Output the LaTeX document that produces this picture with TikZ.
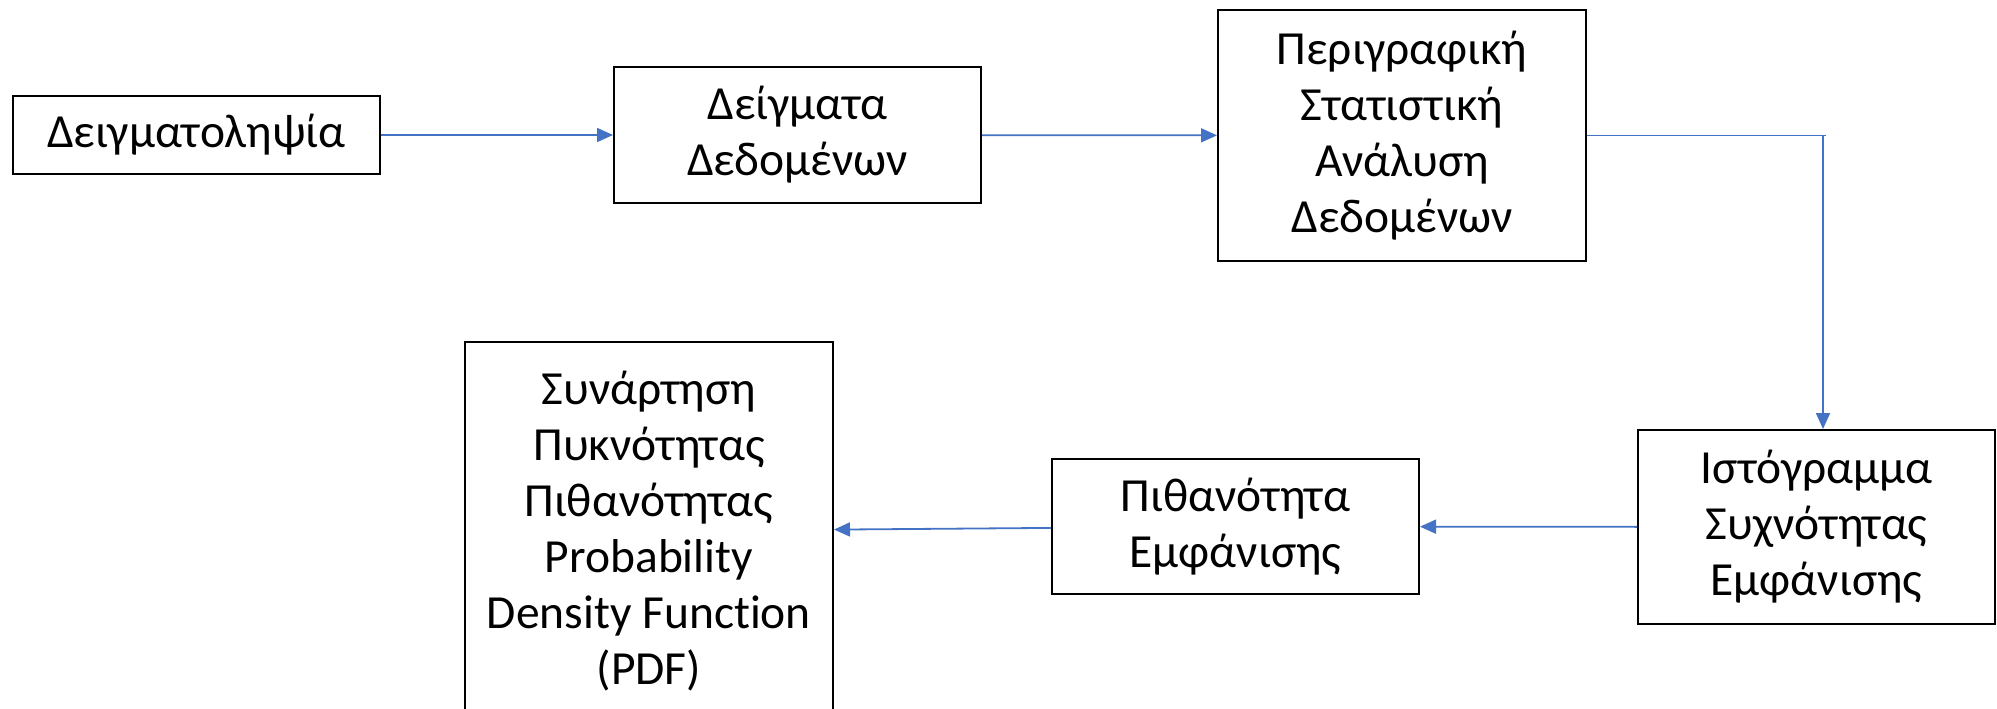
\documentclass[tikz,border=0pt]{standalone}
\usepackage{fontspec}
\setmainfont{Carlito}[Ligatures=NoCommon]
\usetikzlibrary{arrows.meta}
\definecolor{arrowblue}{HTML}{4472C4}
\begin{document}
\begin{tikzpicture}[x=1pt,y=-1pt,
  box/.style={draw=black, line width=2pt, fill=white, inner sep=0pt, align=center,
    font=\fontsize{47.5}{56}\selectfont},
  conn/.style={draw=arrowblue, line width=1.8pt, -{Triangle[length=16pt,width=14pt]}},
  plainconn/.style={draw=arrowblue, line width=1.8pt}]
\useasboundingbox (0,0) rectangle (1997,709);
\node[box, minimum width=367pt, minimum height=78pt] (b1) at (196.5,135) {Δειγματοληψία};
\node[box, minimum width=367pt, minimum height=136pt] (b2) at (797.5,135) {Δείγματα\\Δεδομένων};
\node[box, minimum width=368pt, minimum height=251pt] (b3) at (1402,135.5) {Περιγραφική\\Στατιστική\\Ανάλυση\\Δεδομένων};
\node[box, minimum width=357pt, minimum height=194pt] (b4) at (1816.5,527) {Ιστόγραμμα\\Συχνότητας\\Εμφάνισης};
\node[box, minimum width=367pt, minimum height=135pt] (b5) at (1235.5,526.5) {Πιθανότητα\\Εμφάνισης};
\node[box, minimum width=368pt, minimum height=378pt] (b6) at (649,531) {Συνάρτηση\\Πυκνότητας\\Πιθανότητας\\Probability\\Density Function\\(PDF)};
\coordinate (c1) at (1826,135.5);
\coordinate (c2) at (1823,135.5);
\draw[conn] (b1) -- (b2);
\draw[conn] (b2) -- (b3);
\draw[plainconn] (b3.east) -- (c1);
\draw[conn] (c2) -- (c2 |- b4.north);
\draw[conn] (b4) -- (b5);
\draw[conn] (b5) -- (b6);
\end{tikzpicture}
\end{document}
